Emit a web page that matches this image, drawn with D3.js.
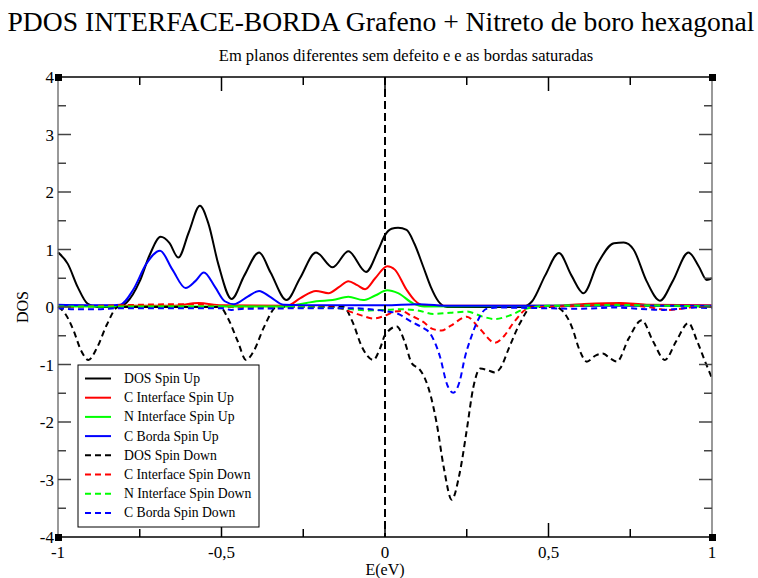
<!DOCTYPE html>
<html>
<head>
<meta charset="utf-8">
<script src="https://cdn.jsdelivr.net/npm/d3@7"></script>
<style>
  body { margin: 0; background: #fff; }
  svg text { font-family: "Liberation Serif", "Times New Roman", serif; }
</style>
</head>
<body>
<svg id="Canvas" width="758" height="578"></svg>
<script>
// ---- data (E in eV, DOS) ----
var dosUp = [[-1,0.95],[-0.97,0.75],[-0.94,0.35],[-0.91,0.06],[-0.88,0.0],[-0.82,0.0],[-0.79,0.08],[-0.75,0.45],[-0.72,0.9],[-0.686,1.22],[-0.66,1.12],[-0.632,0.86],[-0.6,1.3],[-0.566,1.76],[-0.54,1.45],[-0.51,0.75],[-0.469,0.14],[-0.43,0.55],[-0.385,0.95],[-0.35,0.6],[-0.301,0.12],[-0.26,0.5],[-0.211,0.95],[-0.16,0.69],[-0.112,0.97],[-0.058,0.61],[-0.02,1.0],[0,1.25],[0.02,1.36],[0.04,1.38],[0.066,1.34],[0.09,1.1],[0.117,0.7],[0.14,0.35],[0.163,0.1],[0.19,0.0],[0.42,0.0],[0.45,0.1],[0.49,0.55],[0.532,0.94],[0.57,0.55],[0.607,0.24],[0.65,0.75],[0.7,1.11],[0.73,1.12],[0.76,1.0],[0.8,0.45],[0.841,0.11],[0.88,0.45],[0.928,0.95],[0.96,0.7],[0.984,0.47],[1,0.5]];
var cIntUp = [[-1,0.02],[-0.65,0.02],[-0.57,0.07],[-0.5,0.03],[-0.3,0.02],[-0.26,0.15],[-0.211,0.28],[-0.173,0.24],[-0.14,0.35],[-0.112,0.45],[-0.085,0.38],[-0.061,0.31],[-0.03,0.5],[0.007,0.71],[0.03,0.65],[0.066,0.3],[0.09,0.12],[0.117,0.03],[0.2,0.02],[0.5,0.02],[0.6,0.05],[0.72,0.07],[0.8,0.04],[1,0.03]];
var nIntUp = [[-1,0.01],[-0.3,0.01],[-0.27,0.04],[-0.24,0.07],[-0.21,0.1],[-0.16,0.12],[-0.112,0.18],[-0.067,0.12],[-0.03,0.2],[0.007,0.29],[0.04,0.24],[0.087,0.06],[0.12,0.01],[0.6,0.02],[0.7,0.04],[0.8,0.02],[1,0.01]];
var cBordaUp = [[-1,0.04],[-0.85,0.03],[-0.81,0.04],[-0.77,0.3],[-0.73,0.75],[-0.688,0.98],[-0.65,0.65],[-0.61,0.33],[-0.58,0.45],[-0.554,0.6],[-0.52,0.35],[-0.49,0.1],[-0.462,0.05],[-0.42,0.18],[-0.385,0.28],[-0.35,0.17],[-0.31,0.04],[-0.2,0.03],[0.0,0.03],[0.1,0.05],[0.2,0.02],[0.5,0.02],[1,0.02]];
var dosDown = [[-1,0],[-0.98,-0.1],[-0.953,-0.4],[-0.93,-0.75],[-0.907,-0.92],[-0.88,-0.7],[-0.85,-0.3],[-0.816,0],[-0.505,0],[-0.48,-0.2],[-0.45,-0.6],[-0.425,-0.92],[-0.4,-0.75],[-0.37,-0.35],[-0.331,0],[-0.127,0],[-0.1,-0.25],[-0.07,-0.7],[-0.036,-0.92],[-0.015,-0.72],[0,-0.49],[0.036,-0.34],[0.06,-0.6],[0.082,-0.98],[0.105,-1.08],[0.122,-1.24],[0.14,-1.55],[0.158,-2.02],[0.18,-2.8],[0.204,-3.35],[0.228,-2.9],[0.25,-2.14],[0.27,-1.4],[0.291,-1.07],[0.315,-1.1],[0.336,-1.14],[0.352,-1.07],[0.38,-0.7],[0.413,-0.28],[0.449,0],[0.52,0],[0.545,-0.08],[0.571,-0.34],[0.595,-0.75],[0.617,-0.95],[0.645,-0.84],[0.666,-0.81],[0.69,-0.9],[0.709,-0.95],[0.745,-0.55],[0.785,-0.23],[0.82,-0.6],[0.856,-0.92],[0.89,-0.6],[0.928,-0.28],[0.955,-0.6],[0.979,-0.95],[1,-1.24]];
var cIntDown = [[-1,-0.01],[-0.6,0.05],[-0.55,0.04],[-0.5,0],[-0.15,-0.01],[-0.107,-0.08],[-0.07,-0.15],[-0.036,-0.2],[0,-0.15],[0.03,-0.08],[0.05,-0.07],[0.08,-0.15],[0.117,-0.26],[0.145,-0.38],[0.173,-0.41],[0.2,-0.33],[0.25,-0.17],[0.29,-0.38],[0.336,-0.62],[0.365,-0.5],[0.392,-0.28],[0.444,-0.01],[0.6,0.02],[0.72,0.05],[0.8,0.0],[0.87,-0.05],[0.95,0],[1,0]];
var nIntDown = [[-1,0.01],[-0.6,0.01],[-0.3,0.0],[-0.12,-0.03],[-0.05,-0.06],[0,-0.05],[0.05,-0.04],[0.1,-0.06],[0.148,-0.12],[0.2,-0.1],[0.25,-0.08],[0.3,-0.17],[0.336,-0.21],[0.38,-0.15],[0.43,-0.03],[0.5,0.02],[0.7,0.03],[1,0.01]];
var cBordaDown = [[-1,-0.02],[-0.95,-0.04],[-0.88,-0.04],[-0.82,-0.02],[-0.5,-0.02],[-0.47,-0.05],[-0.43,-0.03],[-0.1,-0.02],[-0.03,-0.05],[0.0,-0.07],[0.036,-0.11],[0.082,-0.26],[0.115,-0.36],[0.138,-0.46],[0.155,-0.65],[0.168,-0.86],[0.19,-1.35],[0.209,-1.49],[0.228,-1.3],[0.245,-0.86],[0.262,-0.55],[0.28,-0.28],[0.311,-0.03],[0.35,-0.01],[0.6,-0.03],[0.7,-0.01],[0.85,-0.05],[0.95,-0.01],[1,-0.02]];

var seriesNames = ["DOS Spin Up","C Interface Spin Up","N Interface Spin Up","C Borda Spin Up",
                   "DOS Spin Down","C Interface Spin Down","N Interface Spin Down","C Borda Spin Down"];
var seriesData = [dosUp, cIntUp, nIntUp, cBordaUp, dosDown, cIntDown, nIntDown, cBordaDown];
var xTickLabels = ["-1","-0,5","0","0,5","1"];
var yTickLabels = ["-4","-3","-2","-1","0","1","2","3","4"];

var colors = ["#000000","#ff0000","#00ff00","#0000ff"];

(function(){
  var svg = d3.select("#Canvas"),
      pLeft = 58, pRight = 712, pTop = 77, pBottom = 537;

  var x = d3.scaleLinear().domain([-1, 1]).range([pLeft, pRight]);
  var y = d3.scaleLinear().domain([-4, 4]).range([pBottom, pTop]);

  /*
   * Titles
   */
  svg.append("text").attr("x", 381).attr("y", 31).attr("text-anchor", "middle")
    .style("font-size", "27.6px").text("PDOS INTERFACE-BORDA Grafeno + Nitreto de boro hexagonal");
  svg.append("text").attr("x", 406).attr("y", 61).attr("text-anchor", "middle")
    .style("font-size", "16.5px").text("Em planos diferentes sem defeito e e as bordas saturadas");

  /*
   * Curves
   */
  var line = d3.line()
    .x(function(d){ return x(d[0]); })
    .y(function(d){ return y(d[1]); })
    .curve(d3.curveMonotoneX);

  var plot = svg.append("g");

  seriesData.forEach(function(s, i){
    plot.append("path")
      .attr("d", line(s))
      .attr("fill", "none")
      .attr("stroke", colors[i % 4])
      .attr("stroke-width", 2)
      .attr("stroke-dasharray", i >= 4 ? "6,4" : null);
  });

  // Fermi level line
  plot.append("line")
    .attr("x1", x(0)).attr("x2", x(0)).attr("y1", y(4)).attr("y2", y(-4))
    .attr("stroke", "#000").attr("stroke-width", 2).attr("stroke-dasharray", "8,4");

  /*
   * Frame + ticks (inward on all four sides); vertical sides drawn gray
   */
  var frame = svg.append("g").attr("stroke-width", 1.5);
  frame.append("line").attr("x1", pLeft).attr("x2", pRight).attr("y1", pTop).attr("y2", pTop).attr("stroke", "#000");
  frame.append("line").attr("x1", pLeft).attr("x2", pRight).attr("y1", pBottom).attr("y2", pBottom).attr("stroke", "#000");
  frame.append("line").attr("x1", pLeft).attr("x2", pLeft).attr("y1", pTop).attr("y2", pBottom).attr("stroke", "#777");
  frame.append("line").attr("x1", pRight).attr("x2", pRight).attr("y1", pTop).attr("y2", pBottom).attr("stroke", "#777");

  function axisTicks(scale, vals, len, side){
    vals.forEach(function(v){
      var p = scale(v);
      if(side === "bottom") frame.append("line").attr("stroke", "#000").attr("x1", p).attr("x2", p).attr("y1", pBottom).attr("y2", pBottom - len);
      if(side === "top") frame.append("line").attr("stroke", "#000").attr("x1", p).attr("x2", p).attr("y1", pTop).attr("y2", pTop + len);
      if(side === "left") frame.append("line").attr("stroke", "#444").attr("y1", p).attr("y2", p).attr("x1", pLeft).attr("x2", pLeft + len);
      if(side === "right") frame.append("line").attr("stroke", "#444").attr("y1", p).attr("y2", p).attr("x1", pRight).attr("x2", pRight - len);
    });
  }
  var xMajor = [-0.5, 0, 0.5], xMinor = [-0.75, -0.25, 0.25, 0.75];
  var yMajor = d3.range(-3, 4, 1), yMinor = d3.range(-3.5, 4, 1);
  ["bottom","top"].forEach(function(s){ axisTicks(x, xMajor, 14, s); axisTicks(x, xMinor, 8, s); });
  ["left","right"].forEach(function(s){ axisTicks(y, yMajor, 13, s); axisTicks(y, yMinor, 8, s); });

  // corner markers
  [[pLeft, pTop],[pRight, pTop],[pLeft, pBottom],[pRight, pBottom]].forEach(function(c){
    svg.append("rect").attr("x", c[0] - 3).attr("y", c[1] - 3).attr("width", 7).attr("height", 7).attr("fill", "#000");
  });

  // tick labels
  xTickLabels.forEach(function(t){
    svg.append("text").attr("x", x(+t.replace(",", "."))).attr("y", 558).attr("text-anchor", "middle")
      .style("font-size", "17px").text(t);
  });
  yTickLabels.forEach(function(t){
    svg.append("text").attr("x", pLeft - 4).attr("y", y(+t) + 6).attr("text-anchor", "end")
      .style("font-size", "17px").text(t);
  });

  svg.append("text").attr("x", x(0)).attr("y", 575).attr("text-anchor", "middle")
    .style("font-size", "16px").text("E(eV)");
  svg.append("text").attr("transform", "translate(28," + y(0) + ") rotate(-90)").attr("text-anchor", "middle")
    .style("font-size", "16px").text("DOS");

  /*
   * Legend
   */
  var legend = svg.append("g");
  legend.append("rect").attr("x", 78).attr("y", 365).attr("width", 181).attr("height", 162)
    .attr("fill", "#fff").attr("stroke", "#000").attr("stroke-width", 1);
  seriesNames.forEach(function(n, i){
    var ly = 378.5 + i * 19.2;
    legend.append("line").attr("x1", 85).attr("x2", 111).attr("y1", ly).attr("y2", ly)
      .attr("stroke", colors[i % 4]).attr("stroke-width", 2)
      .attr("stroke-dasharray", i >= 4 ? "6,4" : null);
    legend.append("text").attr("x", 124).attr("y", ly + 4.5).style("font-size", "13.7px").text(n);
  });
})();
</script>
</body>
</html>
